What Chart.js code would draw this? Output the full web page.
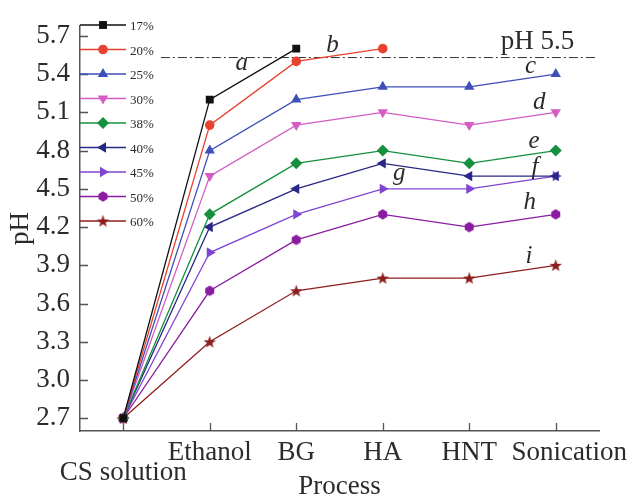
<!DOCTYPE html>
<html>
<head>
<meta charset="utf-8">
<script src="https://cdn.jsdelivr.net/npm/chart.js@4.4.0/dist/chart.umd.min.js"></script>
<style>
  html, body { margin: 0; padding: 0; background: #fff; }
  #wrap { width: 631px; height: 498px; position: relative; }
</style>
</head>
<body>
<div id="wrap"><canvas id="phChart"></canvas></div>
<script>
const processSteps = ["CS solution", "Ethanol", "BG", "HA", "HNT", "Sonication"];
const seriesNames = ["17%", "20%", "25%", "30%", "38%", "40%", "45%", "50%", "60%"];

const ph17 = [2.7, 5.2, 5.6, null, null, null];
const ph20 = [2.7, 5.0, 5.5, 5.6, null, null];
const ph25 = [2.7, 4.8, 5.2, 5.3, 5.3, 5.4];
const ph30 = [2.7, 4.6, 5.0, 5.1, 5.0, 5.1];
const ph38 = [2.7, 4.3, 4.7, 4.8, 4.7, 4.8];
const ph40 = [2.7, 4.2, 4.5, 4.7, 4.6, 4.6];
const ph45 = [2.7, 4.0, 4.3, 4.5, 4.5, 4.6];
const ph50 = [2.7, 3.7, 4.1, 4.3, 4.2, 4.3];
const ph60 = [2.7, 3.3, 3.7, 3.8, 3.8, 3.9];

const yTicks = [2.7, 3.0, 3.3, 3.6, 3.9, 4.2, 4.5, 4.8, 5.1, 5.4, 5.7];
const refLabel = "pH 5.5";
const refLevel = 5.53;
const curveTags = ["a", "b", "c", "d", "e", "f", "g", "h", "i"];

const serif = "'Liberation Serif', 'DejaVu Serif', serif";
const textColor = "#2b2b2b";
const axisColor = "#555";

// where the italic letters sit: [category position, pH]
const tagSpots = [
  [1.37, 5.43], [2.42, 5.57], [4.71, 5.41], [4.81, 5.13], [4.75, 4.82],
  [4.76, 4.62], [3.19, 4.57], [4.70, 4.34], [4.69, 3.92]
];

function hexagonMarker(color, r) {
  const c = document.createElement("canvas");
  const s = Math.ceil(r * 2 + 2);
  c.width = s; c.height = s;
  const g = c.getContext("2d");
  g.beginPath();
  for (let k = 0; k < 6; k++) {
    const a = Math.PI / 6 + k * Math.PI / 3;
    const px = s / 2 + Math.cos(a) * r;
    const py = s / 2 + Math.sin(a) * r;
    k === 0 ? g.moveTo(px, py) : g.lineTo(px, py);
  }
  g.closePath();
  g.fillStyle = color;
  g.fill();
  return c;
}

function starMarker(color, r) {
  const c = document.createElement("canvas");
  const s = Math.ceil(r * 2 + 2);
  c.width = s; c.height = s;
  const g = c.getContext("2d");
  g.beginPath();
  for (let k = 0; k < 10; k++) {
    const rr = k % 2 === 0 ? r : r * 0.42;
    const a = -Math.PI / 2 + k * Math.PI / 5;
    const px = s / 2 + Math.cos(a) * rr;
    const py = s / 2 + 0.6 + Math.sin(a) * rr;
    k === 0 ? g.moveTo(px, py) : g.lineTo(px, py);
  }
  g.closePath();
  g.fillStyle = color;
  g.fill();
  return c;
}

const looks = [
  { color: "#111111", style: "rect", radius: 5.6, rotation: 0 },
  { color: "#e8412d", style: "circle", radius: 4.8, rotation: 0 },
  { color: "#3e4fb8", style: "triangle", radius: 6, rotation: 0 },
  { color: "#d45cc2", style: "triangle", radius: 6, rotation: 180 },
  { color: "#15903e", style: "rectRot", radius: 6, rotation: 0 },
  { color: "#2a2886", style: "triangle", radius: 6, rotation: -90 },
  { color: "#7f46d0", style: "triangle", radius: 6, rotation: 90 },
  { color: "#8a1ca2", style: hexagonMarker("#8a1ca2", 5.2), radius: 5, rotation: 0 },
  { color: "#8e1e1e", style: starMarker("#8e1e1e", 6.5), radius: 6, rotation: 0 }
];

const seriesValues = [ph17, ph20, ph25, ph30, ph38, ph40, ph45, ph50, ph60];

const datasets = seriesValues.map((values, i) => ({
  label: seriesNames[i],
  data: values,
  borderColor: looks[i].color,
  backgroundColor: looks[i].color,
  borderWidth: 1.3,
  pointStyle: looks[i].style,
  pointRadius: looks[i].radius,
  pointRotation: looks[i].rotation,
  pointBorderWidth: 0,
  tension: 0,
  spanGaps: false
}));

const inwardTicks = {
  id: "inwardTicks",
  beforeDatasetsDraw(chart) {
    const { ctx, chartArea, scales: { x, y } } = chart;
    ctx.save();
    ctx.strokeStyle = axisColor;
    ctx.lineWidth = 1.3;
    ctx.beginPath();
    y.ticks.forEach((t) => {
      const py = Math.round(y.getPixelForValue(t.value)) + 0.5;
      ctx.moveTo(chartArea.left, py);
      ctx.lineTo(chartArea.left + 8, py);
    });
    x.ticks.forEach((t, i) => {
      const px = Math.round(x.getPixelForTick(i)) + 0.5;
      ctx.moveTo(px, chartArea.bottom);
      ctx.lineTo(px, chartArea.bottom - 8);
    });
    ctx.stroke();
    ctx.restore();
  }
};

const refLine = {
  id: "refLine",
  beforeDatasetsDraw(chart) {
    const { ctx, scales: { x, y } } = chart;
    const py = y.getPixelForValue(refLevel);
    ctx.save();
    ctx.strokeStyle = "#333";
    ctx.lineWidth = 1;
    ctx.setLineDash([9, 3, 2, 3]);
    ctx.beginPath();
    ctx.moveTo(x.getPixelForValue(0.435), py);
    ctx.lineTo(x.getPixelForValue(5.46), py);
    ctx.stroke();
    ctx.setLineDash([]);
    ctx.fillStyle = textColor;
    ctx.font = "27px " + serif;
    ctx.textAlign = "center";
    ctx.textBaseline = "alphabetic";
    ctx.fillText(refLabel, x.getPixelForValue(4.79), y.getPixelForValue(5.6));
    ctx.restore();
  }
};

const tagsAndLegend = {
  id: "tagsAndLegend",
  afterDatasetsDraw(chart) {
    const { ctx, chartArea, scales: { x, y } } = chart;
    ctx.save();
    ctx.fillStyle = textColor;
    ctx.font = "italic 25px " + serif;
    ctx.textAlign = "center";
    ctx.textBaseline = "alphabetic";
    curveTags.forEach((tag, i) => {
      ctx.fillText(tag, x.getPixelForValue(tagSpots[i][0]), y.getPixelForValue(tagSpots[i][1]));
    });

    // legend in the upper-left corner
    const left = chartArea.left;
    chart.data.datasets.forEach((ds, i) => {
      const ly = 25 + i * 24.5;
      ctx.strokeStyle = ds.borderColor;
      ctx.lineWidth = 1.3;
      ctx.beginPath();
      ctx.moveTo(left, ly);
      ctx.lineTo(left + 46, ly);
      ctx.stroke();
      ctx.fillStyle = ds.backgroundColor;
      Chart.helpers.drawPoint(ctx, {
        pointStyle: ds.pointStyle,
        radius: ds.pointRadius,
        rotation: ds.pointRotation,
        borderWidth: 0
      }, left + 23, ly);
      ctx.fillStyle = textColor;
      ctx.font = "13px " + serif;
      ctx.textAlign = "left";
      ctx.textBaseline = "middle";
      ctx.fillText(ds.label, left + 50, ly + 2);
    });
    ctx.restore();
  }
};

new Chart(document.getElementById("phChart"), {
  type: "line",
  plugins: [inwardTicks, refLine, tagsAndLegend],
  data: { labels: processSteps, datasets },
  options: {
    responsive: true,
    maintainAspectRatio: false,
    animation: false,
    layout: { padding: { top: 15, right: 32, left: 0, bottom: 0 } },
    plugins: {
      legend: { display: false },
      tooltip: { enabled: false }
    },
    scales: {
      x: {
        type: "category",
        offset: true,
        afterFit(scale) {
          scale.height = 67;
          scale.paddingLeft = 0;
          scale.paddingRight = 0;
        },
        grid: { display: false, drawTicks: false },
        border: { color: axisColor, width: 1.5 },
        ticks: {
          autoSkip: false,
          maxRotation: 0,
          minRotation: 0,
          padding: 12,
          color: textColor,
          font: { family: serif, size: 27, lineHeight: "20px" },
          callback(value, index) {
            // first label sits one line lower, last one is nudged right
            if (index === 0) return ["", processSteps[index]];
            if (index === processSteps.length - 1) return "    " + processSteps[index];
            return processSteps[index];
          }
        },
        title: {
          display: true,
          text: "Process",
          color: textColor,
          font: { family: serif, size: 27, lineHeight: 0.8 },
          padding: 0
        }
      },
      y: {
        min: 2.6,
        max: 5.776,
        afterFit(scale) { scale.width = 80; },
        afterBuildTicks(scale) { scale.ticks = yTicks.map((v) => ({ value: v })); },
        grid: { display: false, drawTicks: false },
        border: { color: axisColor, width: 1.5 },
        ticks: {
          padding: 10,
          color: textColor,
          font: { family: serif, size: 27 },
          callback(value) { return Number(value).toFixed(1); }
        },
        title: {
          display: true,
          text: "pH",
          color: textColor,
          font: { family: serif, size: 27 },
          padding: { top: 5, bottom: 0 }
        }
      }
    }
  }
});
</script>
</body>
</html>
